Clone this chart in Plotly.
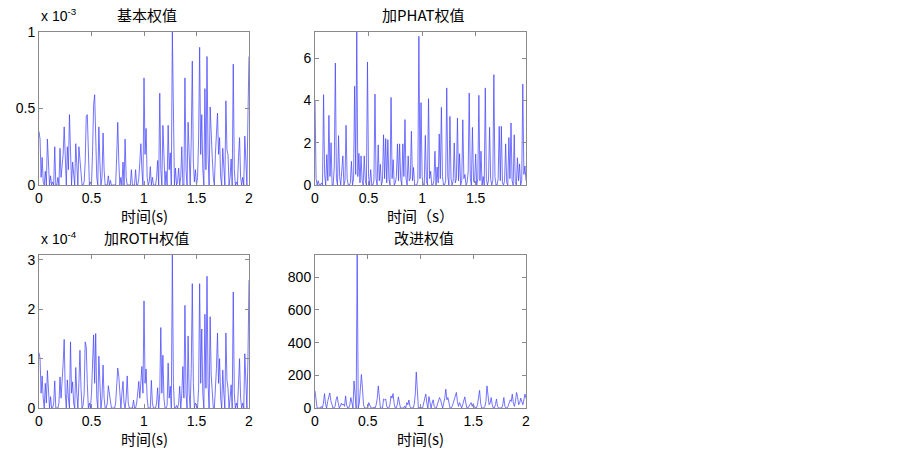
import plotly.graph_objects as go

# sample step 0.01 s
dt = 0.01

# 基本权值, units of 1e-3
basic = [
    0.35, 0.30, 0.05, 0.18, 0.02, 0.00, 0.09, 0.00, 0.30, 0.12, 0.00, 0.06, 0.00, 0.02, 0.00, 0.25, 0.00, 0.00, 0.05, 0.00,
    0.24, 0.05, 0.12, 0.20, 0.38, 0.10, 0.00, 0.25, 0.10, 0.46, 0.22, 0.00, 0.15, 0.05, 0.00, 0.27, 0.10, 0.00, 0.25, 0.15,
    0.05, 0.00, 0.00, 0.02, 0.15, 0.45, 0.46, 0.20, 0.00, 0.02, 0.00, 0.22, 0.52, 0.59, 0.20, 0.05, 0.00, 0.38, 0.15, 0.00,
    0.05, 0.34, 0.10, 0.00, 0.00, 0.00, 0.06, 0.00, 0.03, 0.00, 0.00, 0.00, 0.00, 0.00, 0.19, 0.41, 0.15, 0.00, 0.05, 0.00,
    0.15, 0.00, 0.30, 0.05, 0.00, 0.00, 0.00, 0.00, 0.10, 0.00, 0.00, 0.00, 0.10, 0.00, 0.00, 0.04, 0.15, 0.27, 0.10, 0.00,
    0.70, 0.20, 0.37, 0.05, 0.00, 0.02, 0.12, 0.00, 0.05, 0.00, 0.00, 0.00, 0.05, 0.16, 0.00, 0.60, 0.10, 0.00, 0.39, 0.10,
    0.00, 0.09, 0.00, 0.39, 0.10, 0.21, 0.00, 1.00, 0.30, 0.00, 0.11, 0.00, 0.02, 0.11, 0.00, 0.05, 0.25, 0.00, 0.00, 0.70,
    0.10, 0.00, 0.41, 0.10, 0.00, 0.30, 0.81, 0.15, 0.02, 0.10, 0.00, 0.05, 0.30, 0.90, 0.20, 0.46, 0.10, 0.00, 0.63, 0.10,
    0.84, 0.20, 0.00, 0.51, 0.30, 0.18, 0.05, 0.00, 0.20, 0.30, 0.47, 0.20, 0.31, 0.05, 0.00, 0.24, 0.10, 0.00, 0.55, 0.23,
    0.20, 0.00, 0.05, 0.17, 0.00, 0.79, 0.10, 0.00, 0.02, 0.00, 0.18, 0.31, 0.05, 0.00, 0.05, 0.00, 0.32, 0.10, 0.00, 0.45,
    0.84,
]

# 加PHAT权值
phat = [
    4.00, 0.30, 0.00, 0.20, 0.00, 0.00, 0.10, 0.00, 4.28, 0.50, 0.00, 1.44, 0.20, 3.30, 0.40, 2.00, 0.00, 0.00, 0.90, 5.78,
    0.30, 0.00, 2.34, 0.40, 0.00, 0.65, 1.38, 0.00, 0.20, 2.83, 0.30, 0.00, 0.00, 0.10, 1.12, 0.00, 0.30, 4.68, 0.50, 7.28,
    0.40, 1.50, 0.10, 1.38, 0.20, 0.00, 1.38, 0.20, 0.00, 5.83, 0.40, 0.00, 0.73, 0.00, 0.00, 0.20, 4.31, 0.30, 0.00, 1.90,
    0.20, 0.98, 0.00, 0.20, 2.38, 0.30, 2.20, 0.10, 2.15, 0.30, 0.00, 4.15, 0.30, 1.20, 0.00, 0.10, 0.40, 1.95, 0.20, 1.95,
    0.30, 0.00, 1.95, 0.40, 3.10, 0.30, 0.00, 1.38, 0.20, 0.30, 2.55, 0.20, 0.83, 0.00, 0.00, 0.00, 0.20, 7.05, 0.30, 3.90,
    0.40, 0.00, 0.00, 2.35, 0.20, 0.00, 4.09, 0.30, 0.65, 0.00, 0.00, 0.20, 1.60, 0.00, 0.85, 0.10, 2.42, 0.30, 3.68, 0.40,
    0.00, 0.00, 0.20, 4.60, 0.40, 0.00, 3.25, 0.30, 0.00, 0.20, 1.99, 0.10, 0.30, 3.17, 0.20, 1.48, 0.00, 0.20, 3.09, 0.30,
    0.50, 0.00, 0.10, 0.62, 4.36, 0.30, 0.00, 2.73, 0.20, 0.10, 1.47, 0.00, 0.30, 4.25, 0.20, 1.60, 0.00, 0.40, 0.00, 4.60,
    0.30, 0.00, 0.20, 2.73, 0.30, 0.00, 0.20, 5.23, 0.40, 0.00, 0.00, 0.30, 2.78, 0.20, 2.78, 0.10, 0.00, 0.20, 1.95, 0.10,
    0.00, 2.25, 0.30, 2.94, 0.20, 0.00, 2.38, 0.10, 0.00, 1.29, 0.20, 1.00, 0.00, 0.20, 4.78, 0.50, 0.90, 0.20,
]

# 加ROTH权值, units of 1e-4
roth = [
    1.12, 1.00, 0.30, 0.65, 0.20, 0.00, 0.50, 0.10, 0.76, 0.30, 0.00, 0.23, 0.00, 0.00, 0.10, 0.55, 0.00, 0.00, 0.00, 0.10,
    0.63, 0.20, 0.50, 0.90, 1.39, 0.30, 0.00, 0.57, 0.20, 0.00, 1.34, 0.30, 0.53, 0.10, 0.00, 0.82, 0.30, 0.00, 0.50, 1.17,
    0.40, 0.00, 0.05, 0.30, 1.34, 1.24, 0.50, 0.00, 0.10, 0.00, 0.30, 0.90, 1.48, 0.50, 1.51, 0.20, 0.00, 1.05, 0.30, 0.00,
    0.20, 0.87, 0.20, 0.00, 0.00, 0.10, 0.45, 0.30, 0.17, 0.00, 0.00, 0.00, 0.00, 0.10, 0.40, 0.81, 0.64, 0.20, 0.00, 0.30,
    0.54, 0.10, 0.00, 0.20, 0.65, 0.10, 0.00, 0.00, 0.00, 0.00, 0.16, 0.00, 0.00, 0.10, 0.30, 0.54, 0.20, 0.50, 0.84, 0.30,
    2.17, 0.50, 0.79, 0.20, 0.00, 0.00, 0.00, 0.56, 0.10, 0.00, 0.00, 0.00, 0.10, 0.41, 0.00, 0.30, 1.63, 0.30, 1.07, 0.20,
    0.00, 0.00, 0.05, 0.91, 0.20, 0.44, 0.00, 3.10, 0.50, 0.00, 0.00, 0.05, 0.00, 0.10, 0.44, 0.00, 0.30, 0.84, 0.20, 2.08,
    0.30, 0.00, 1.46, 0.30, 0.00, 0.80, 2.52, 0.50, 0.00, 0.10, 0.05, 0.00, 0.40, 2.52, 0.50, 1.60, 0.30, 0.00, 1.90, 0.40,
    2.67, 0.50, 0.00, 1.85, 0.67, 0.30, 0.00, 0.00, 0.30, 0.80, 1.52, 0.50, 1.00, 0.20, 0.00, 0.77, 0.30, 0.00, 1.52, 0.57,
    0.40, 0.00, 0.20, 0.47, 0.00, 2.35, 0.30, 0.00, 0.10, 0.00, 0.47, 1.00, 0.20, 0.00, 0.10, 0.00, 1.10, 0.30, 0.00, 1.00,
    2.59,
]

# 改进权值
improved = [
    104, 40, 0, 0, 0, 0, 10, 0, 30, 88, 25, 0, 40, 70, 92, 45, 20, 0, 0, 10,
    50, 70, 33, 0, 10, 30, 18, 25, 10, 74, 18, 0, 0, 20, 64, 40, 0, 165, 60, 0,
    936, 0, 30, 150, 205, 120, 20, 0, 0, 0, 0, 33, 10, 0, 0, 0, 5, 0, 20, 60,
    135, 40, 0, 0, 0, 55, 50, 55, 10, 0, 0, 20, 74, 60, 88, 27, 0, 0, 20, 68,
    40, 0, 0, 0, 0, 12, 0, 33, 20, 49, 10, 0, 0, 0, 20, 80, 220, 60, 0, 0,
    10, 0, 0, 30, 60, 85, 30, 0, 70, 20, 0, 30, 50, 10, 0, 0, 20, 40, 64, 50,
    20, 0, 30, 60, 115, 50, 64, 20, 0, 0, 10, 30, 50, 60, 95, 40, 10, 33, 10, 0,
    20, 40, 68, 30, 0, 0, 10, 20, 33, 10, 27, 5, 0, 0, 20, 60, 108, 30, 0, 0,
    0, 10, 40, 135, 60, 20, 30, 64, 20, 0, 0, 20, 55, 10, 0, 0, 0, 0, 20, 64,
    10, 0, 0, 10, 30, 50, 40, 85, 30, 10, 40, 95, 70, 20, 30, 60, 40, 20, 50, 85,
    60,
]

titles = ["基本权值", "加PHAT权值", "加ROTH权值", "改进权值"]
xlabels = ["时间(s)", "时间（s）", "时间(s)", "时间(s)"]
y_ranges = [[0, 1.0], [0, 7.25], [0, 3.1], [0, 936]]
x_ranges = [[0, 2], [0, 1.97], [0, 2], [0, 2]]
y_ticks = [[0, 0.5, 1], [0, 2, 4, 6], [0, 1, 2, 3], [0, 200, 400, 600, 800]]
scales = ["x 10<sup>-3</sup>", None, "x 10<sup>-4</sup>", None]
series = [basic, phat, roth, improved]

W, H = 903, 455
# plot boxes in pixels: (left, right, top, bottom)
boxes = [(39, 249, 32, 185), (315, 526, 32, 185), (39, 249, 255, 408), (315, 526, 255, 408)]

LINE = "rgba(70,70,255,0.75)"
FRAME = "#8a8a8a"
TICKFONT = dict(family="Liberation Sans, Arial", size=14, color="black")
CJK = "Noto Sans CJK SC"

fig = go.Figure()
annotations = []

for i, (vals, box) in enumerate(zip(series, boxes)):
    n = str(i + 1) if i else ""
    t = [k * dt for k in range(len(vals))]
    fig.add_trace(go.Scatter(x=t, y=vals, mode="lines", xaxis="x" + n, yaxis="y" + n,
                             line=dict(color=LINE, width=1), showlegend=False, hoverinfo="skip"))
    l, r, top, bot = box
    xd = [l / W, r / W]
    yd = [1 - bot / H, 1 - top / H]
    common = dict(showgrid=False, zeroline=False, showline=True, linecolor=FRAME, linewidth=1,
                  mirror="ticks", ticks="inside", ticklen=4, tickcolor=FRAME, tickfont=TICKFONT,
                  automargin=False)
    fig.update_layout(**{
        "xaxis" + n: dict(domain=xd, range=x_ranges[i], anchor="y" + n,
                          tickvals=[0, 0.5, 1, 1.5, 2], ticktext=["0", "0.5", "1", "1.5", "2"],
                          **common),
        "yaxis" + n: dict(domain=yd, range=y_ranges[i], anchor="x" + n,
                          tickvals=y_ticks[i], **common),
    })
    cx = (l + r) / 2 / W
    annotations.append(dict(text=titles[i], x=cx + 3 / W, y=1 - (top - 18) / H, xref="paper", yref="paper",
                            showarrow=False, font=dict(family=CJK, size=15, color="black"),
                            xanchor="center", yanchor="middle"))
    annotations.append(dict(text=xlabels[i], x=cx, y=1 - (bot + 30) / H, xref="paper", yref="paper",
                            showarrow=False, font=dict(family=CJK, size=15, color="black"),
                            xanchor="center", yanchor="middle"))
    if scales[i]:
        annotations.append(dict(text=scales[i], x=l / W, y=1 - (top - 17) / H, xref="paper", yref="paper",
                                showarrow=False, font=dict(family="Liberation Sans, Arial", size=14, color="black"),
                                xanchor="left", yanchor="middle"))

fig.update_layout(width=W, height=H, margin=dict(l=0, r=0, t=0, b=0, autoexpand=False),
                  paper_bgcolor="white", plot_bgcolor="white", annotations=annotations)

fig.write_html("out.html", config={"displayModeBar": False},
               post_script="document.body.style.margin='0';")
